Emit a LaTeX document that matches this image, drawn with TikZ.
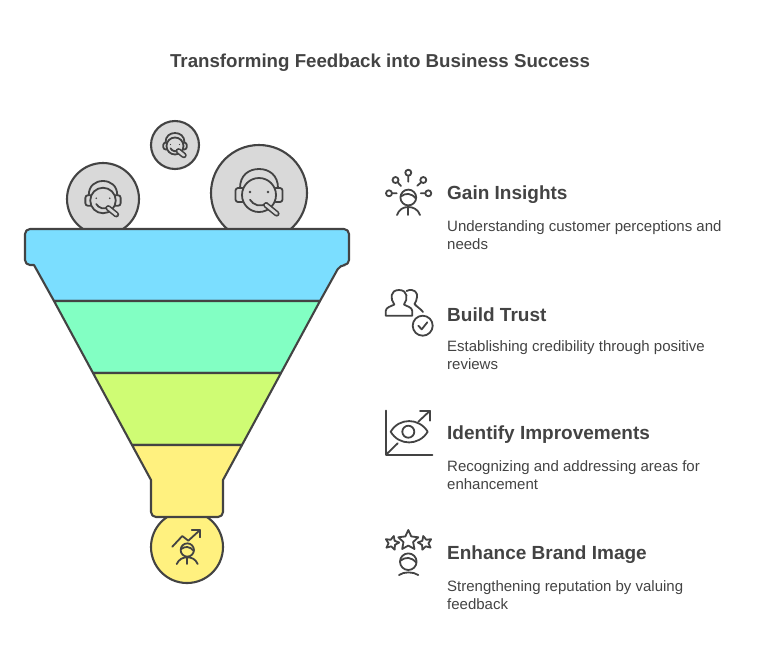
\documentclass[tikz,border=0pt]{standalone}
\usepackage{fontspec}
\setmainfont{Liberation Sans}
\definecolor{ink}{HTML}{434343}
\definecolor{cgray}{HTML}{D9D9D9}
\definecolor{cblue}{HTML}{7BDEFF}
\definecolor{cgreen}{HTML}{82FFC3}
\definecolor{clime}{HTML}{CFFC74}
\definecolor{cyellow}{HTML}{FFF17F}
\tikzset{
  band/.style={draw=ink,line width=2.1pt,line join=round},
  ball/.style={circle,draw=ink,fill=cgray,line width=2.1pt,inner sep=0pt},
  ico/.style={draw=ink,line width=1.8pt,line cap=round,line join=round},
  titletext/.style={anchor=center,text=ink,font=\fontsize{18.7}{22}\selectfont\bfseries},
  headtext/.style={anchor=west,text=ink,font=\fontsize{19}{22}\selectfont\bfseries,inner sep=0pt},
  bodytext/.style={anchor=north west,align=left,text=ink,font=\fontsize{15}{18}\selectfont,inner sep=0pt},
  headset/.pic={
    \draw[ico] (0,2) circle[radius=17];
    \draw[ico] (-19,-5) .. controls (-19,-18) and (-10,-24) .. (0,-24) .. controls (10,-24) and (19,-18) .. (19,-5);
    \draw[ico,rounded corners=2.5] (-16.5,-5) -- (-23.5,-5) -- (-23.5,9) -- (-16.5,9);
    \draw[ico,rounded corners=2.5] (16.5,-5) -- (23.5,-5) -- (23.5,9) -- (16.5,9);
    \fill[ink] (-9,-1) circle[radius=1.3] (9,-1) circle[radius=1.3];
    \draw[ico] (-9,6.7) .. controls (-6,12) and (2,15) .. (8,10);
    \draw[ico,line width=5.8pt] (7,12) -- (17.7,20.7);
    \draw[cgray,line width=2.6pt,line cap=round] (7,12) -- (17.7,20.7);
  },
  persona/.pic={
    \draw[ico] (0,0) circle[radius=8.3];
    \draw[ico] (-8,-1) .. controls (-3,-5) and (3,-5) .. (8,1);
  },
  starshape/.pic={
    \draw[ico] (-90:10) -- (-54:4.8) -- (-18:10) -- (18:4.8) -- (54:10) -- (90:4.8) -- (126:10) -- (162:4.8) -- (198:10) -- (234:4.8) -- cycle;
  }
}
\begin{document}
\begin{tikzpicture}[x=1pt,y=-1pt]
\useasboundingbox (0,0) rectangle (759,662);
\node[titletext] (title) at (380,62.5) {Transforming Feedback into Business Success};

% balls behind the funnel
\node[ball,minimum size=72pt] (ballL) at (103,199) {};
\node[ball,minimum size=48pt] (ballT) at (175,145) {};
\node[ball,minimum size=96pt] (ballR) at (259,193) {};
\pic[scale=0.75] at (103,199) {headset};
\pic[scale=0.5] at (175,145) {headset};
\pic at (259,193) {headset};

\node[ball,fill=cyellow,minimum size=72pt] (ballB) at (187,547) {};

% funnel
\path[band,fill=cblue] [rounded corners=5pt] (34,265) -- (25,265) -- (25,229) -- (349,229) -- (349,265) -- (340,265) [sharp corners] -- (320,301) -- (54,301) -- cycle;
\path[band,fill=cgreen] (54,301) -- (320,301) -- (281,373) -- (93,373) -- cycle;
\path[band,fill=clime] (93,373) -- (281,373) -- (242,445) -- (132,445) -- cycle;
\path[band,fill=cyellow] (132,445) -- (242,445) -- (223,480) [rounded corners=5pt] -- (223,517) -- (151,517) [sharp corners] -- (151,480) -- cycle;

% icon in bottom ball
\draw[ico] (172.3,546.7) -- (182.3,536) -- (188.3,540.7) -- (200,530);
\draw[ico] (191.7,530) -- (200,530) -- (200,537.3);
\pic[scale=0.8] at (187.3,550) {persona};
\draw[ico] (176.7,564) .. controls (179,559) and (183,557.3) .. (187.3,557.3) .. controls (191.6,557.3) and (195.5,559) .. (197.7,564);
\draw[ico] (187.3,557.3) -- (187.3,564);

% Gain Insights icon
\pic[scale=0.95] at (408.3,197.5) {persona};
\draw[ico] (397,215) .. controls (399,209.5) and (403,207) .. (408.3,207) .. controls (413.5,207) and (418,209.5) .. (420,215);
\draw[ico] (408.3,207) -- (408.3,215);
\draw[ico] (408.3,172.7) circle[radius=3] (408.3,175.7) -- (408.3,181.7);
\draw[ico] (395.5,180) circle[radius=3] (397.6,182.2) -- (401,186);
\draw[ico] (423.3,180) circle[radius=3] (421.2,182.2) -- (417.3,185.8);
\draw[ico] (389,193.3) circle[radius=3] (392,193.3) -- (396.7,193.3);
\draw[ico] (428.3,193.3) circle[radius=3] (425.3,193.3) -- (420.7,193.3);

% Build Trust icon
\draw[ico] (385.7,315.7) -- (385.7,311) .. controls (386,307) and (391,306.5) .. (394.3,304.5) .. controls (390,299) and (390,290) .. (399,290) .. controls (408,290) and (408,299) .. (404,304.5) .. controls (407,306.5) and (412,307) .. (412.3,311) -- (412.3,315.7) -- cycle;
\draw[ico] (406.5,291) .. controls (414,287.5) and (418,293) .. (417,297) .. controls (416.5,300) and (416,302) .. (414.5,304) .. controls (417,307) and (421,309) .. (423,312);
\draw[ico] (422.7,325.7) circle[radius=10];
\draw[ico] (418.3,325.7) -- (421.7,329.3) -- (427.3,322.3);

% Identify Improvements icon
\draw[ico,line width=2.1pt] (385.7,410.7) -- (385.7,455) -- (432.3,455);
\draw[ico] (390.7,431.7) .. controls (399,417.5) and (419,417.5) .. (427.7,431.7) .. controls (419,446) and (399,446) .. (390.7,431.7) -- cycle;
\draw[ico] (408.3,431.7) circle[radius=6];
\draw[ico] (418.3,421.7) -- (430,410.7);
\draw[ico] (420,410.7) -- (430,410.7) -- (430,420.7);
\draw[ico] (386.7,454) -- (397.7,443.3);

% Enhance Brand Image icon
\pic[scale=1.05] at (408.3,540.5) {starshape};
\pic[scale=0.72,rotate=-14] at (392,543) {starshape};
\pic[scale=0.72,rotate=14] at (425,543) {starshape};
\pic at (408.3,561.7) {persona};
\draw[ico] (399,575) .. controls (404,571.5) and (413,571.5) .. (418.3,575);

% text
\node[headtext] (h1) at (447,195) {Gain Insights};
\node[bodytext] (b1) at (447,220) {Understanding customer perceptions and\\needs};
\node[headtext] (h2) at (447,315) {Build Trust};
\node[bodytext] (b2) at (447,340) {Establishing credibility through positive\\reviews};
\node[headtext] (h3) at (447,435) {Identify Improvements};
\node[bodytext] (b3) at (447,460) {Recognizing and addressing areas for\\enhancement};
\node[headtext] (h4) at (447,555) {Enhance Brand Image};
\node[bodytext] (b4) at (447,580) {Strengthening reputation by valuing\\feedback};
\end{tikzpicture}
\end{document}
